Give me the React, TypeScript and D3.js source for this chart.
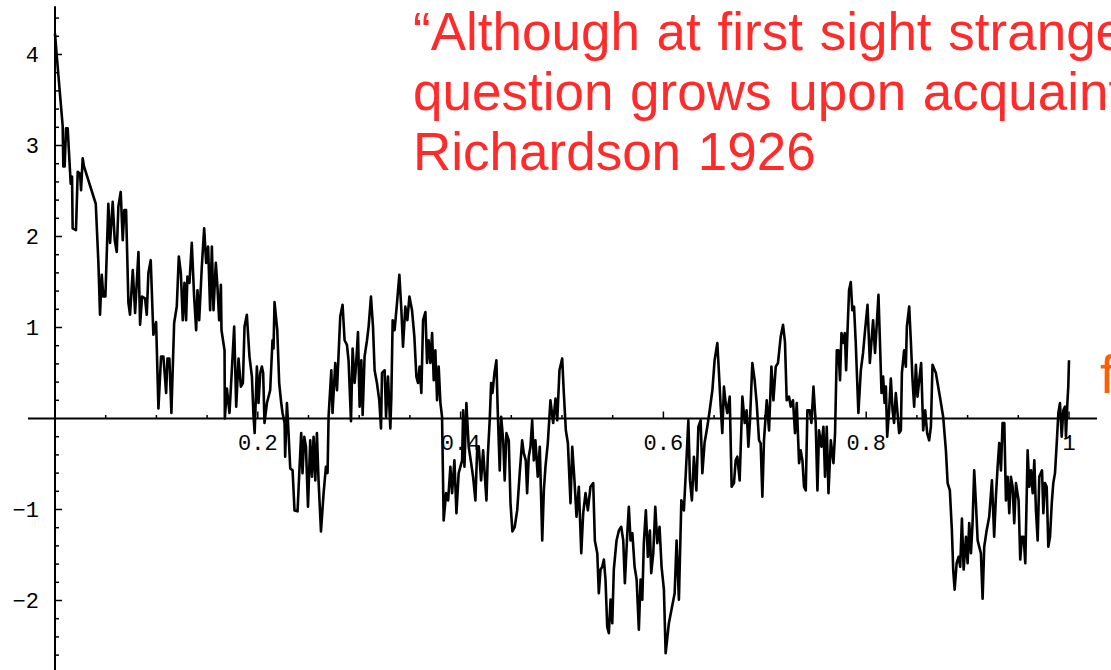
import * as d3 from "d3";
import React, { useEffect, useRef } from "react";

// axis ticks
const xTickValues = [0.2, 0.4, 0.6, 0.8, 1];
const xTickLabels = ["0.2", "0.4", "0.6", "0.8", "1"];
const yTickValues = [-2, -1, 1, 2, 3, 4];
const yTickLabels = ["−2", "−1", "1", "2", "3", "4"];

// slide text
const quoteLines = [
  "“Although at first sight strange, the",
  "question grows upon acquaintance.”",
  "Richardson 1926",
];
const sideNote = "fractal";

// [t, W(t)]
const walk: [number, number][] = [
  [0, 4.23], [0.0017, 3.99], [0.0076, 3.21], [0.0082, 2.77], [0.0095, 2.77], [0.0109, 3.19],
  [0.0125, 3.19], [0.0155, 2.58], [0.0168, 2.66], [0.0174, 2.09], [0.0207, 2.07], [0.0224, 2.71],
  [0.0247, 2.69], [0.0257, 2.51], [0.0273, 2.86], [0.0286, 2.77], [0.0402, 2.36], [0.0428, 1.71],
  [0.0444, 1.14], [0.0461, 1.58], [0.0477, 1.34], [0.0497, 1.34], [0.0526, 2.36], [0.0543, 1.93],
  [0.0569, 2.38], [0.0589, 1.96], [0.0609, 1.83], [0.0625, 2.33], [0.0648, 2.49], [0.0668, 1.96],
  [0.0684, 2.29], [0.0701, 2.29], [0.0724, 1.27], [0.074, 1.14], [0.0767, 1.63], [0.079, 1.16],
  [0.0823, 1.83], [0.0839, 1.03], [0.0859, 1.34], [0.0888, 1.32], [0.0905, 1.14], [0.0921, 1.6],
  [0.0944, 1.74], [0.097, 0.92], [0.0997, 1.06], [0.102, 0.11], [0.1046, 0.68], [0.1069, 0.68],
  [0.1096, 0.28], [0.1109, 0.66], [0.1128, 0.66], [0.1148, 0.06], [0.1175, 1.05], [0.1201, 1.23],
  [0.1221, 1.78], [0.1241, 1.6], [0.126, 1.08], [0.1277, 1.49], [0.1293, 1.08], [0.1306, 1.56],
  [0.1326, 1.49], [0.1349, 1.93], [0.1372, 1.34], [0.1392, 0.97], [0.1405, 1.41], [0.1422, 1.08],
  [0.1448, 1.67], [0.1471, 2.09], [0.1491, 1.71], [0.151, 1.89], [0.153, 1.19], [0.1547, 1.89],
  [0.1563, 1.19], [0.1586, 1.71], [0.1602, 1.45], [0.1619, 1.08], [0.1636, 1.47], [0.1642, 0.97],
  [0.1672, 0.75], [0.1675, 0.0], [0.1695, 0.33], [0.1721, 0.06], [0.1744, 0.53], [0.1767, 1.01],
  [0.1787, 0.13], [0.181, 0.66], [0.1833, 0.35], [0.1853, 0.39], [0.1869, 1.01], [0.1892, 1.14],
  [0.1918, 0.68], [0.1942, 0.46], [0.1958, 0.02], [0.1969, -0.16],
  [0.1991, 0.57], [0.2007, 0.17], [0.2024, 0.5], [0.204, 0.57], [0.2053, 0.5], [0.2066, -0.05],
  [0.209, 0.17], [0.2122, 0.31], [0.2145, 0.86], [0.2155, 0.77], [0.2165, 1.28], [0.2192, 0.97],
  [0.2211, 0.39], [0.2231, 0.17], [0.2244, 0.06], [0.2264, -0.05], [0.227, -0.42], [0.2287, 0.17],
  [0.2297, -0.02], [0.232, -0.55], [0.2343, -0.57], [0.2362, -1.01], [0.2392, -1.02], [0.2409, -0.6],
  [0.2428, -0.16], [0.2441, -0.6], [0.2458, -0.2], [0.2475, -0.31], [0.2495, -0.97], [0.2517, -0.24],
  [0.2534, -0.64], [0.255, -0.2], [0.2567, -0.68], [0.2583, -0.16], [0.2599, -0.68], [0.2623, -1.24],
  [0.2649, -0.82], [0.2672, -0.53], [0.2688, -0.6], [0.2698, 0.02], [0.2725, 0.53], [0.2737, 0.06],
  [0.2764, 0.61], [0.2781, 0.31], [0.2813, 1.12], [0.2836, 1.25], [0.2856, 0.86], [0.2879, 0.81],
  [0.2895, 0.64], [0.2919, -0.03], [0.2935, 0.77], [0.2955, 0.39], [0.2968, 0.57], [0.2988, 0.95],
  [0.3004, 0.13], [0.3021, 0.64], [0.3034, 0.04], [0.3053, 0.68], [0.3077, 0.86], [0.3093, 1.01],
  [0.3116, 1.34], [0.3136, 1.01], [0.3152, 0.53], [0.3175, 0.39], [0.3198, 0.2], [0.3215, -0.11],
  [0.3225, 0.5], [0.3251, 0.53], [0.3265, 0.02], [0.3284, 0.46], [0.3307, -0.11], [0.3317, 0.24],
  [0.333, 1.08], [0.3349, 0.97], [0.3373, 1.27], [0.3396, 1.58], [0.3416, 1.19], [0.3432, 0.79],
  [0.3455, 1.23], [0.3475, 1.08], [0.3495, 1.34], [0.3521, 1.19], [0.3544, 0.9], [0.3564, 0.46],
  [0.358, 0.39], [0.3596, 0.57], [0.3613, 0.28], [0.363, 1.08], [0.3653, 1.17], [0.3669, 0.61],
  [0.3685, 0.86], [0.3702, 0.61], [0.3719, 0.94], [0.3735, 0.42], [0.3751, 0.75], [0.3768, 0.2],
  [0.3784, 0.57], [0.3801, 0.17], [0.3817, 0.02], [0.3833, -1.12], [0.3857, -0.82], [0.3877, -0.9],
  [0.3899, -0.53], [0.3916, -0.82], [0.3939, -0.46], [0.3959, -1.04], [0.3981, -0.6], [0.4015, -0.46],
  [0.4025, 0.09], [0.4038, -0.53], [0.4057, 0.17], [0.408, -0.31], [0.4104, -0.49], [0.4123, -0.64],
  [0.4146, -0.9], [0.4163, -0.35], [0.4179, -0.31], [0.4202, -0.68], [0.4222, -0.35], [0.4255, -0.9],
  [0.4268, -0.42], [0.4287, -0.02], [0.4301, 0.39], [0.4314, 0.28], [0.4334, 0.5], [0.4353, 0.64],
  [0.4366, 0.09], [0.4386, -0.57], [0.44, 0.02], [0.442, -0.24], [0.4435, -0.68], [0.4452, -0.16],
  [0.4475, -0.24], [0.4492, -0.93], [0.4511, -1.24], [0.4534, -1.19], [0.4558, -1.01], [0.4583, -0.6],
  [0.4607, -0.24], [0.4623, -0.38], [0.4643, -0.46], [0.4656, -0.82], [0.4672, -0.42], [0.4689, -0.31],
  [0.4706, -0.02], [0.4722, -0.46], [0.4738, -0.24], [0.4761, -0.64], [0.4781, -0.31], [0.4805, -1.34],
  [0.4821, -0.79], [0.4837, -0.53], [0.486, -0.27], [0.4886, 0.2], [0.4913, -0.05], [0.4936, 0.22],
  [0.4953, -0.02], [0.4975, 0.53], [0.5002, 0.66], [0.5018, 0.28], [0.5038, -0.13], [0.5058, -0.27],
  [0.5084, -0.93], [0.5101, -0.31], [0.5123, -0.68], [0.5143, -1.08], [0.5166, -0.75], [0.519, -1.48],
  [0.5209, -1.04], [0.5232, -0.82], [0.5255, -1.01], [0.5281, -0.75], [0.5308, -0.71], [0.5324, -1.34],
  [0.5348, -1.48], [0.5363, -1.92], [0.538, -1.66], [0.5397, -1.63], [0.5413, -1.55], [0.5429, -1.77],
  [0.5446, -2.29], [0.5462, -2.36], [0.5479, -1.99], [0.5496, -2.25], [0.5511, -1.66], [0.5538, -1.34],
  [0.5561, -1.23], [0.5584, -1.19], [0.5604, -1.34], [0.562, -1.81], [0.5644, -1.26], [0.5659, -0.97],
  [0.5676, -1.34], [0.5694, -1.26], [0.5716, -1.63], [0.5736, -1.77], [0.5758, -2.32], [0.5775, -1.77],
  [0.5792, -1.99], [0.5807, -1.37], [0.5827, -1.01], [0.5847, -1.52], [0.5867, -1.23], [0.588, -1.7],
  [0.59, -1.48], [0.592, -0.97], [0.594, -1.37], [0.5962, -1.19], [0.5982, -1.63], [0.6005, -1.88],
  [0.6022, -2.58], [0.6054, -2.25], [0.6111, -1.92], [0.613, -1.34], [0.6153, -1.99], [0.6177, -0.9],
  [0.6202, -1.01], [0.6229, -0.42], [0.6246, -0.02], [0.6262, -0.68], [0.6281, -0.9], [0.6301, -0.42],
  [0.6325, -0.79], [0.6345, -0.09], [0.6367, -0.02], [0.6384, -0.6], [0.6406, -0.27], [0.6433, -0.09],
  [0.6453, 0.06], [0.6483, 0.31], [0.6505, 0.64], [0.6532, 0.83], [0.6548, 0.5], [0.6565, 0.13],
  [0.6581, -0.16], [0.6597, 0.35], [0.6614, 0.17], [0.663, 0.06], [0.6654, 0.24], [0.6673, -0.75],
  [0.6696, -0.71], [0.6713, -0.46], [0.6729, -0.42], [0.6752, -0.68], [0.6779, 0.24], [0.6802, -0.05],
  [0.6821, 0.09], [0.6838, -0.31], [0.6854, -0.02], [0.6877, 0.61], [0.69, 0.42], [0.692, 0.17],
  [0.6943, -0.24], [0.6959, -0.27], [0.6976, -0.86], [0.6992, -0.24], [0.7019, 0.2], [0.7042, -0.13],
  [0.7065, 0.57], [0.7085, 0.2], [0.7108, 0.57], [0.713, 0.61], [0.7157, 0.9], [0.718, 1.03],
  [0.7199, 0.84], [0.7216, 0.2], [0.7239, 0.24], [0.7256, 0.13], [0.7278, 0.2], [0.7298, -0.16],
  [0.7315, 0.17], [0.7338, -0.49], [0.7354, -0.35], [0.7371, -0.46], [0.7387, -0.75], [0.7404, -0.79],
  [0.742, 0.09], [0.7443, 0.09], [0.746, -0.05], [0.748, 0.35], [0.7502, -0.05], [0.7519, -0.79],
  [0.7535, -0.13], [0.7559, -0.31], [0.7578, -0.09], [0.7594, -0.64], [0.7611, -0.09], [0.7628, -0.82],
  [0.7651, -0.24], [0.7677, -0.49], [0.7693, -0.16], [0.771, 0.75], [0.7726, 0.75], [0.7742, 0.42],
  [0.7756, 0.94], [0.7775, 0.83], [0.7789, 0.94], [0.7802, 0.53], [0.7815, 0.94], [0.7831, 1.41],
  [0.7848, 1.5], [0.7863, 1.19], [0.788, 1.23], [0.7897, 0.83], [0.7923, 0.06], [0.7947, 0.53],
  [0.7969, 0.72], [0.7989, 0.97], [0.8013, 1.25], [0.8036, 0.61], [0.8068, 1.08], [0.8087, 0.72],
  [0.8105, 1.05], [0.8121, 1.36], [0.8134, 0.9], [0.8151, 0.28], [0.8167, 0.46], [0.8181, 0.17],
  [0.8194, 0.35], [0.8207, -0.2], [0.8226, 0.09], [0.8243, 0.44], [0.826, 0.09], [0.8275, -0.05],
  [0.8292, 0.28], [0.8309, 0.06], [0.8325, -0.16], [0.8342, -0.13], [0.8352, 0.5], [0.8374, 0.75],
  [0.8391, 0.57], [0.8401, 1.01], [0.8424, 1.23], [0.844, 0.86], [0.8457, 0.42], [0.8473, 0.13],
  [0.849, 0.59], [0.8506, 0.24], [0.8523, 0.42], [0.8542, 0.61], [0.8562, -0.13], [0.8582, 0.09],
  [0.8601, -0.16], [0.8621, -0.24], [0.8638, -0.09], [0.8654, 0.59], [0.8687, 0.5], [0.8727, 0.24],
  [0.8759, 0.02], [0.8786, -0.35], [0.8803, -0.71], [0.8825, -0.79], [0.8845, -1.23], [0.8858, -1.66],
  [0.8872, -1.88], [0.8892, -1.59], [0.8911, -1.52], [0.8927, -1.63], [0.8944, -1.1], [0.8961, -1.66],
  [0.8984, -1.3], [0.9, -1.59], [0.9016, -1.15], [0.9033, -1.48], [0.9049, -1.15], [0.9065, -0.57],
  [0.9082, -0.93], [0.9099, -1.34], [0.9115, -1.41], [0.9131, -1.48], [0.9148, -1.98], [0.9164, -1.41],
  [0.9188, -1.23], [0.9213, -1.08], [0.924, -0.68], [0.9262, -1.3], [0.9279, -0.86], [0.9296, -0.53],
  [0.9312, -0.27], [0.9329, -0.57], [0.9345, -0.05], [0.9362, -0.05], [0.9378, -0.9], [0.9395, -0.64],
  [0.9411, -1.04], [0.9427, -0.64], [0.9444, -0.75], [0.946, -1.15], [0.9477, -0.71], [0.9503, -0.9],
  [0.9519, -1.55], [0.9536, -1.3], [0.9553, -1.3], [0.9569, -1.59], [0.9592, -0.35], [0.9608, -0.75],
  [0.9625, -0.57], [0.9642, -0.82], [0.9658, -0.46], [0.9674, -1.01], [0.9691, -1.34], [0.9707, -0.64],
  [0.9734, -0.57], [0.9747, -1.04], [0.9763, -0.71], [0.978, -0.75], [0.9796, -1.41], [0.9813, -1.3],
  [0.983, -0.93], [0.9845, -0.71], [0.9862, -0.6], [0.9879, -0.27], [0.9895, 0.06], [0.9911, 0.17],
  [0.9928, -0.2], [0.9944, 0.09], [0.9961, 0.13], [0.997, -0.2], [0.9984, 0.17], [0.9993, 0.35],
  [1, 0.64],
];

export default function App() {
  const ref = useRef<SVGSVGElement>(null);

  useEffect(() => {
    const svg = d3.select(ref.current);
    svg.selectAll("*").remove();

    const x = d3.scaleLinear().domain([0, 1]).range([55, 1069]);
    const y = d3.scaleLinear().domain([0, 1]).range([418.5, 327.5]);
    const x0 = x(0);
    const y0 = y(0);
    const mono = "'Liberation Mono', 'DejaVu Sans Mono', monospace";

    // x axis
    const gx = svg.append("g");
    gx.append("line")
      .attr("x1", x(-0.0266)).attr("x2", x(1.0276))
      .attr("y1", y0).attr("y2", y0)
      .attr("stroke", "#000").attr("stroke-width", 2);
    const xMinor = d3.range(1, 21).map(i => i * 0.05);
    gx.selectAll("line.minor")
      .data(xMinor)
      .join("line")
      .attr("class", "minor")
      .attr("x1", d => x(d)).attr("x2", d => x(d))
      .attr("y1", y0)
      .attr("y2", d => (xTickValues.some(v => Math.abs(v - d) < 1e-6) ? y0 - 7 : y0 - 3.5))
      .attr("stroke", "#000").attr("stroke-width", 1.5);
    gx.selectAll("text")
      .data(xTickValues)
      .join("text")
      .attr("x", d => x(d))
      .attr("y", 450)
      .attr("text-anchor", "middle")
      .attr("font-family", mono)
      .attr("font-size", 22)
      .text((d, i) => xTickLabels[i]);

    // y axis
    const gy = svg.append("g");
    gy.append("line")
      .attr("x1", x0).attr("x2", x0)
      .attr("y1", y(4.53)).attr("y2", y(-2.8))
      .attr("stroke", "#000").attr("stroke-width", 2);
    const yMinor = d3.range(-13, 23).map(i => +(i * 0.2).toFixed(1)).filter(v => v !== 0);
    gy.selectAll("line.minor")
      .data(yMinor)
      .join("line")
      .attr("class", "minor")
      .attr("x1", x0)
      .attr("x2", d => (Number.isInteger(d) ? x0 + 7 : x0 + 4))
      .attr("y1", d => y(d)).attr("y2", d => y(d))
      .attr("stroke", "#000").attr("stroke-width", 1.5);
    gy.selectAll("text")
      .data(yTickValues)
      .join("text")
      .attr("x", 39)
      .attr("y", d => y(d) + 7.5)
      .attr("text-anchor", "end")
      .attr("font-family", mono)
      .attr("font-size", 22)
      .text((d, i) => yTickLabels[i]);

    // sample path
    const line = d3.line<[number, number]>()
      .x(d => x(d[0]))
      .y(d => y(d[1]));
    svg.append("path")
      .datum(walk)
      .attr("d", line)
      .attr("fill", "none")
      .attr("stroke", "#000")
      .attr("stroke-width", 2.6)
      .attr("stroke-linejoin", "round");

    // quote
    svg.append("g")
      .selectAll("text")
      .data(quoteLines)
      .join("text")
      .attr("x", 413)
      .attr("y", (d, i) => 50 + i * 60)
      .attr("font-family", "'Liberation Sans', Arial, sans-serif")
      .attr("font-size", 53)
      .attr("word-spacing", 2)
      .attr("fill", "#ff2b2b")
      .text(d => d);

    svg.append("text")
      .attr("x", 1100)
      .attr("y", 393)
      .attr("font-family", "'Liberation Sans', Arial, sans-serif")
      .attr("font-size", 53)
      .attr("fill", "#ff5f00")
      .text(sideNote);
  }, []);

  return (
    <svg
      ref={ref}
      width={1111}
      height={670}
      style={{ position: "absolute", left: 0, top: 0, background: "#fff" }}
    />
  );
}
